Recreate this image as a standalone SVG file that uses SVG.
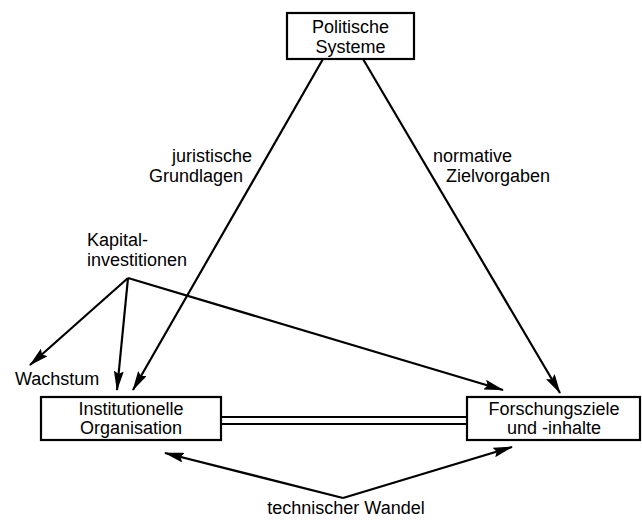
<svg xmlns="http://www.w3.org/2000/svg" width="642" height="524" viewBox="0 0 642 524">
<style>
text{font-family:"Liberation Sans",Arial,sans-serif;font-size:18px;fill:#000}
.box{fill:#fff;stroke:#000;stroke-width:2.2}
.c{text-anchor:middle}
.e{text-anchor:end}
.ln{stroke:#000;stroke-width:2.2;fill:none}
.arr{marker-end:url(#ah)}
</style>
<defs>
<marker id="ah" viewBox="0 0 20 10" markerWidth="20" markerHeight="10" refX="19" refY="5" orient="auto" markerUnits="userSpaceOnUse">
<path d="M0,0 L20,5 L0,10 L3,5 z" fill="#000"/>
</marker>
</defs>
<rect width="642" height="524" fill="#fff"/>
<g id="connectors">
<line class="ln arr" x1="128" y1="278" x2="503" y2="390"/>
<line x1="323" y1="59" x2="133" y2="390" stroke="#fff" stroke-width="8" stroke-dasharray="0 170 25 1000"/>
<line class="ln arr" x1="323" y1="59" x2="133" y2="390"/>
<line class="ln arr" x1="363" y1="59" x2="560" y2="393"/>
<line class="ln arr" x1="128" y1="278" x2="30" y2="365"/>
<line class="ln arr" x1="128" y1="278" x2="117" y2="390"/>
<line class="ln" x1="221" y1="417" x2="467" y2="417"/>
<line class="ln" x1="221" y1="424" x2="467" y2="424"/>
<line class="ln arr" x1="343" y1="498" x2="165" y2="453"/>
<line class="ln arr" x1="343" y1="498" x2="512" y2="447"/>
</g>
<g id="politische-systeme">
<rect class="box" x="287" y="13" width="127" height="46"/>
<text class="c" x="350.5" y="33">Politische</text>
<text class="c" x="350.5" y="53">Systeme</text>
</g>
<g id="institutionelle-organisation">
<rect class="box" x="41" y="397" width="180" height="43"/>
<text class="c" x="131" y="415">Institutionelle</text>
<text class="c" x="131" y="434">Organisation</text>
</g>
<g id="forschungsziele">
<rect class="box" x="467" y="397" width="173" height="43"/>
<text class="c" x="554" y="415">Forschungsziele</text>
<text class="c" x="554" y="434">und -inhalte</text>
</g>
<g id="labels">
<text class="e" x="252" y="162">juristische</text>
<text class="e" x="243" y="182">Grundlagen</text>
<text x="433" y="162">normative</text>
<text x="446" y="182">Zielvorgaben</text>
<text x="87" y="246">Kapital-</text>
<text x="87" y="266">investitionen</text>
<text x="15" y="385">Wachstum</text>
<text class="c" x="346" y="514">technischer Wandel</text>
</g>
</svg>
